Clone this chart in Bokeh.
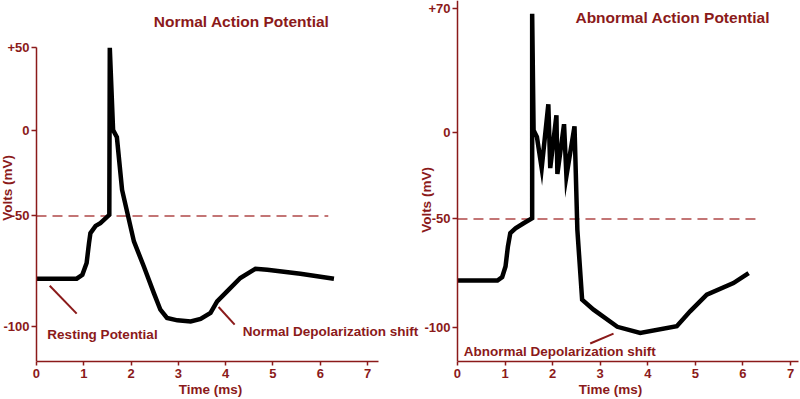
from math import pi
from bokeh.plotting import figure
from bokeh.models import Label, FixedTicker, Range1d
from bokeh.layouts import row
from bokeh.embed import file_html
from bokeh.resources import INLINE

# ---------------- data (time in ms, potential in mV) ----------------
normal_time = [0, 0.85, 0.97, 1.06, 1.11, 1.14, 1.25, 1.35, 1.54, 1.55, 1.62, 1.70,
               1.81, 2.06, 2.27, 2.48, 2.62, 2.76, 2.98, 3.26, 3.47, 3.68, 3.82,
               4.03, 4.31, 4.63, 4.88, 5.58, 6.29]
normal_mv = [-86.6, -86.6, -84.3, -77.5, -65.9, -60.1, -55.8, -54.2, -49.4, 48.0, 0.0, -4.1,
             -34.9, -64.9, -79.5, -94.9, -104.7, -109.5, -110.9, -111.5, -110.1, -106.6, -99.8,
             -94.0, -86.2, -80.8, -81.4, -83.7, -86.6]

abnormal_time = [0, 0.84, 0.94, 1.01, 1.06, 1.11, 1.22, 1.39, 1.57, 1.57, 1.60, 1.67,
                 1.77, 1.91, 1.95, 2.08, 2.10, 2.24, 2.29, 2.46, 2.52, 2.62, 2.86,
                 3.36, 3.84, 4.61, 4.89, 5.24, 5.80, 6.12]
abnormal_mv = [-85.5, -85.5, -83.5, -77.4, -65.9, -58.2, -55.4, -52.5, -49.6, 68.2, 1.1, -2.7,
               -20.7, 16.1, -20.7, 9.8, -24.1, 4.6, -25.3, 3.4, -56.3, -96.6, -102.3,
               -112.2, -115.7, -111.9, -103.3, -93.7, -87.0, -81.2]

threshold_mv = -50
normal_threshold_end = 6.17
abnormal_threshold_end = 6.30

x_ticks = [0, 1, 2, 3, 4, 5, 6, 7]
normal_y_ticks = [48.2, 0, -50, -114.5]
normal_y_labels = ["+50", "0", "-50", "-100"]
abnormal_y_ticks = [71.3, 0, -50, -112.6]
abnormal_y_labels = ["+70", "0", "-50", "-100"]

titles = ["Normal Action Potential", "Abnormal Action Potential"]
y_title = "Volts (mV)"
x_title = "Time (ms)"

DARK = "#8B1A1A"
DASH = "#B04848"
FONT = "Liberation Sans"


def make_panel(width, x_range, y_range, x_bounds, y_bounds, y_ticks, y_labels):
    p = figure(width=width, height=399,
               x_range=Range1d(*x_range), y_range=Range1d(*y_range),
               output_backend="svg", toolbar_location=None,
               min_border_left=0, min_border_right=0,
               min_border_top=0, min_border_bottom=37)
    p.grid.visible = False
    p.outline_line_color = None
    p.background_fill_color = "white"
    p.border_fill_color = "white"

    for ax in (p.xaxis[0], p.yaxis[0]):
        ax.axis_line_color = DARK
        ax.axis_line_width = 1.5
        ax.major_tick_line_color = DARK
        ax.major_tick_line_width = 1.5
        ax.minor_tick_line_color = None
        ax.major_tick_in = 0
        ax.major_label_text_color = DARK
        ax.major_label_text_font = FONT
        ax.major_label_text_font_style = "bold"
        ax.major_label_text_font_size = "13px"

    xa = p.xaxis[0]
    xa.ticker = FixedTicker(ticks=x_ticks)
    xa.bounds = x_bounds
    xa.major_tick_out = 4
    xa.major_label_standoff = 3
    xa.axis_label = x_title
    xa.axis_label_text_color = DARK
    xa.axis_label_text_font = FONT
    xa.axis_label_text_font_style = "bold"
    xa.axis_label_text_font_size = "13.5px"
    xa.axis_label_standoff = 1

    ya = p.yaxis[0]
    ya.fixed_location = 0
    ya.ticker = FixedTicker(ticks=y_ticks)
    ya.major_label_overrides = {t: s for t, s in zip(y_ticks, y_labels)}
    ya.major_tick_out = 5
    ya.major_label_standoff = 2
    if y_bounds is not None:
        ya.bounds = y_bounds
    return p


def add_text(p, x, y, text, size="13.5px", angle=0.0, align="left"):
    p.add_layout(Label(x=x, y=y, text=text, text_color=DARK, text_font=FONT,
                       text_font_style="bold", text_font_size=size,
                       text_baseline="middle", text_align=align, angle=angle))


# ---------------- left panel ----------------
p1 = make_panel(420, (-0.761, 8.12), (-134.9, 75.6), (0, 7.23), (-134.9, 48.2),
                normal_y_ticks, normal_y_labels)
p1.line([0, normal_threshold_end], [threshold_mv, threshold_mv],
        line_color=DASH, line_width=1.5, line_dash="10 6")
p1.line(normal_time, normal_mv, line_color="black", line_width=4.5, line_join="miter")
p1.line([0.28, 0.85], [-90.7, -107.0], line_color=DARK, line_width=2)
p1.line([3.85, 4.19], [-103.1, -113.4], line_color=DARK, line_width=2)
add_text(p1, 2.48, 63.5, titles[0], size="15.5px")
add_text(p1, 0.23, -119.2, "Resting Potential")
add_text(p1, 4.36, -117.4, "Normal Depolarization shift")
add_text(p1, -0.603, -33.7, y_title, angle=pi / 2, align="center")

# ---------------- right panel ----------------
p2 = make_panel(380, (-0.777, 7.21), (-132.2, 75.9), (0, 7.16), None,
                abnormal_y_ticks, abnormal_y_labels)
p2.line([0, abnormal_threshold_end], [threshold_mv, threshold_mv],
        line_color=DASH, line_width=1.5, line_dash="10 6")
p2.line(abnormal_time, abnormal_mv, line_color="black", line_width=4.5, line_join="miter")
p2.line([2.79, 3.28], [-121.8, -116.1], line_color=DARK, line_width=2)
add_text(p2, 2.48, 66.3, titles[1], size="15.5px")
add_text(p2, 0.13, -126.3, "Abnormal Depolarization shift")
add_text(p2, -0.651, -39.1, y_title, angle=pi / 2, align="center")

layout = row(p1, p2)
open("out.html", "w").write(file_html(layout, INLINE))
